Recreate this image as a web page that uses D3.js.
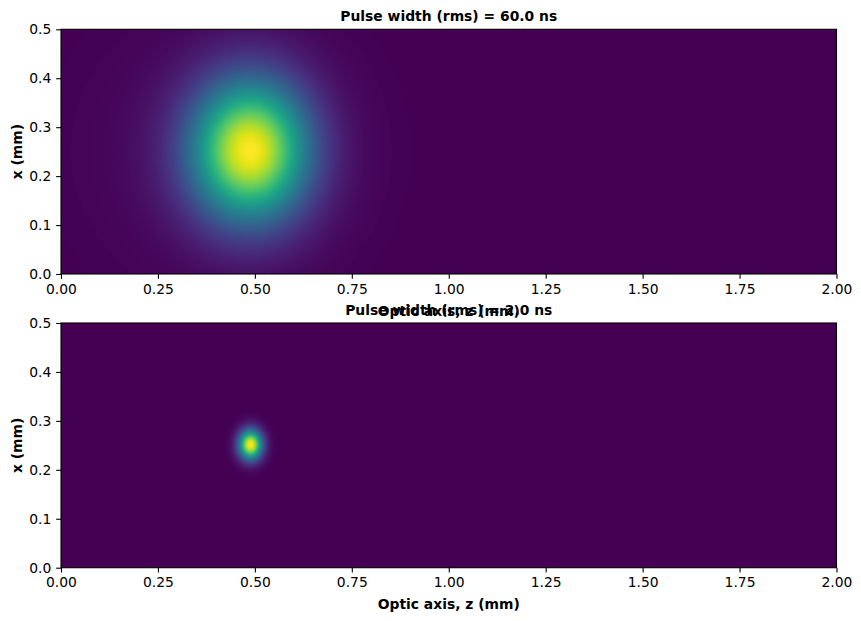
<!DOCTYPE html>
<html>
<head>
<meta charset="utf-8">
<script src="https://cdn.jsdelivr.net/npm/d3@7"></script>
<style>
    body { margin: 0; background: white; }
    text { font-family: 'DejaVu Sans', sans-serif; }
</style>
</head>
<body>
<script>
const svg_width = 861;
const svg_height = 621;
const font_size = 13.89;

// one entry per panel
const panel_titles = ['Pulse width (rms) = 60.0 ns', 'Pulse width (rms) = 2.0 ns'];
const pulse_z0 = [0.488, 0.489];      // mm, centre along optic axis
const pulse_x0 = [0.252, 0.251];      // mm, centre across
const pulse_sz = [0.105, 0.021];      // mm, rms along z
const pulse_sx = [0.099, 0.021];      // mm, rms along x
const halo_amp = [0.04, 0];           // faint wide pedestal seen round the long pulse
const halo_z0 = [0.42, 0.489];
const halo_sz = [0.22, 0.02];
const halo_sx = [0.17, 0.02];

const z_domain = [0, 2];
const x_domain = [0, 0.5];
const z_ticks = [0, 0.25, 0.5, 0.75, 1.0, 1.25, 1.5, 1.75, 2.0];
const x_ticks = [0, 0.1, 0.2, 0.3, 0.4, 0.5];
const x_label = 'Optic axis, z (mm)';
const y_label = 'x (mm)';

const margin = {left: 61, right: 836.5};
const panel_tops = [29.3, 323];
const panel_h = 244.7;

const color = d3.scaleSequential(d3.interpolateViridis).domain([0, 1]);

const svg = d3.select('body')
    .append('svg')
    .attr('width', svg_width)
    .attr('height', svg_height);

const z = d3.scaleLinear().domain(z_domain).range([margin.left, margin.right]);

panel_titles.forEach(function (title, i) {
    const top = panel_tops[i];
    const x = d3.scaleLinear().domain(x_domain).range([top + panel_h, top]);
    const g = svg.append('g').attr('class', 'panel_g');

    // raster of the field, one canvas pixel per screen pixel
    const w = Math.round(margin.right - margin.left);
    const h = Math.round(panel_h);
    const canvas = document.createElement('canvas');
    canvas.width = w;
    canvas.height = h;
    const ctx = canvas.getContext('2d');
    const img = ctx.createImageData(w, h);
    const field = (zv, xv) => {
        const dz = (zv - pulse_z0[i]) / pulse_sz[i];
        const dx = (xv - pulse_x0[i]) / pulse_sx[i];
        const hz = (zv - halo_z0[i]) / halo_sz[i];
        const hx = (xv - pulse_x0[i]) / halo_sx[i];
        return Math.exp(-0.5 * (dz * dz + dx * dx)) + halo_amp[i] * Math.exp(-0.5 * (hz * hz + hx * hx));
    };
    const peak = field(pulse_z0[i], pulse_x0[i]);
    for (let py = 0; py < h; py++) {
        const xv = x.invert(top + py + 0.5);
        for (let px = 0; px < w; px++) {
            const zv = z.invert(margin.left + px + 0.5);
            const c = d3.rgb(color(Math.min(1, field(zv, xv) / peak)));
            const k = (py * w + px) * 4;
            img.data[k] = c.r;
            img.data[k + 1] = c.g;
            img.data[k + 2] = c.b;
            img.data[k + 3] = 255;
        }
    }
    ctx.putImageData(img, 0, 0);

    g.append('image')
        .attr('x', margin.left)
        .attr('y', top)
        .attr('width', margin.right - margin.left)
        .attr('height', panel_h)
        .attr('preserveAspectRatio', 'none')
        .attr('href', canvas.toDataURL());

    const x_axis = g.append('g')
        .attr('transform', `translate(0, ${top + panel_h})`)
        .call(d3.axisBottom(z).tickValues(z_ticks).tickFormat(d3.format('.2f')).tickSizeOuter(0).tickSize(4.86).tickPadding(4.86));
    const y_axis = g.append('g')
        .attr('transform', `translate(${margin.left}, 0)`)
        .call(d3.axisLeft(x).tickValues(x_ticks).tickFormat(d3.format('.1f')).tickSizeOuter(0).tickSize(4.86).tickPadding(4.86));
    [x_axis, y_axis].forEach(a => {
        a.select('.domain').remove();
        a.selectAll('line').attr('stroke', 'black').attr('stroke-width', 1.1);
        a.selectAll('text')
            .attr('font-size', font_size)
            .attr('font-family', 'DejaVu Sans')
            .attr('fill', 'black');
    });

    g.append('rect')
        .attr('x', margin.left)
        .attr('y', top)
        .attr('width', margin.right - margin.left)
        .attr('height', panel_h)
        .attr('fill', 'none')
        .attr('stroke', 'black')
        .attr('stroke-width', 1.1);

    g.append('text')
        .attr('x', (margin.left + margin.right) / 2)
        .attr('y', top - 8.3)
        .attr('text-anchor', 'middle')
        .attr('font-size', font_size)
        .attr('font-weight', 'bold')
        .text(title);

    // the top panel's axis label runs into the lower title, as in the original figure
    g.append('text')
        .attr('x', (margin.left + margin.right) / 2)
        .attr('y', top + panel_h + 41.5)
        .attr('text-anchor', 'middle')
        .attr('font-size', font_size)
        .attr('font-weight', 'bold')
        .text(x_label);

    g.append('text')
        .attr('transform', `translate(21.5, ${top + panel_h / 2}) rotate(-90)`)
        .attr('text-anchor', 'middle')
        .attr('font-size', font_size)
        .attr('font-weight', 'bold')
        .text(y_label);
});
</script>
</body>
</html>
